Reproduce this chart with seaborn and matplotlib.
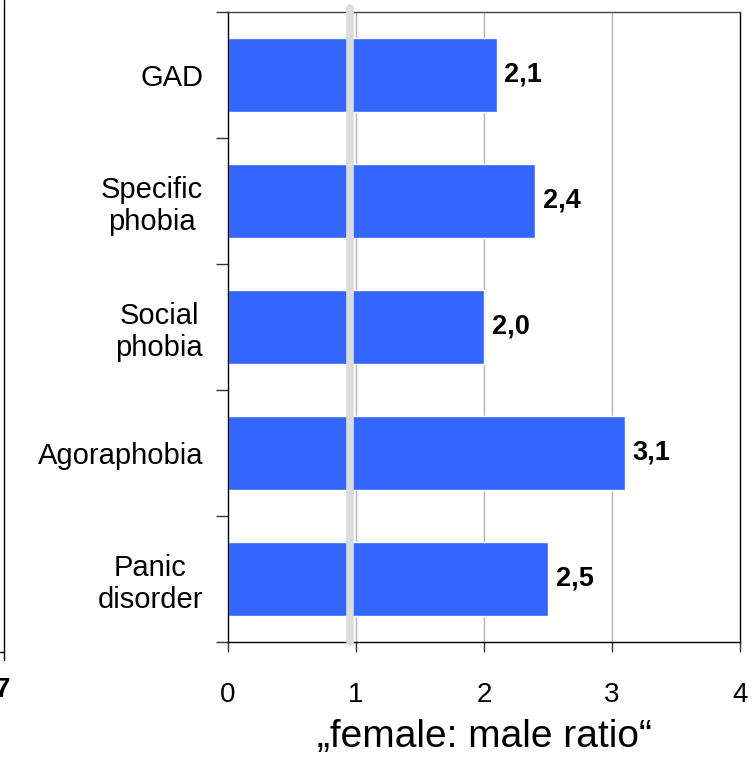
import matplotlib
matplotlib.use("Agg")
import matplotlib.pyplot as plt
import seaborn as sns
import pandas as pd
from matplotlib.lines import Line2D

categories = ["GAD", "Specific\nphobia", "Social\nphobia", "Agoraphobia", "Panic\ndisorder"]
ratios = [2.1, 2.4, 2.0, 3.1, 2.5]
value_labels = ["2,1", "2,4", "2,0", "3,1", "2,5"]
xticks = [0, 1, 2, 3, 4]

sns.set_theme(style="white")
plt.rcParams['font.family'] = ['Liberation Sans', 'DejaVu Sans']
plt.rcParams['text.color'] = 'black'
plt.rcParams['xtick.color'] = 'black'
plt.rcParams['ytick.color'] = 'black'
plt.rcParams['axes.labelcolor'] = 'black'

df = pd.DataFrame({"category": categories, "ratio": ratios})

fig = plt.figure(figsize=(7.52, 7.57), dpi=100)
ax = fig.add_axes([228/752, 1 - 642/757, 512/752, 630/757])

sns.barplot(data=df, x="ratio", y="category", orient="h", color="#3366FF",
            saturation=1, width=0.59, ax=ax, zorder=2)

ax.set_xlim(0, 4)
ax.set_ylim(4.5, -0.5)

for x in [1, 2, 3]:
    ax.axvline(x, color="#b4b4b4", lw=1.0, zorder=1)
ax.axvline(0.955, ymin=0, ymax=1.007, color="#dcdcdc", lw=5.5, zorder=3, clip_on=False)

for i, (v, lab) in enumerate(zip(ratios, value_labels)):
    ax.text(v + 0.06, i, lab, va="center", ha="left", fontsize=19.5, fontweight="bold", color="black")

ax.set_xticks(xticks)
ax.set_xticklabels([str(t) for t in xticks], fontsize=20)
ax.tick_params(axis="x", direction="out", length=7, width=1, color="#333333", pad=22, bottom=True)

ax.set_yticks(range(len(categories)))
ax.set_yticklabels(categories, fontsize=21, multialignment="center", linespacing=1.2)
ax.set_yticks([-0.5, 0.5, 1.5, 2.5, 3.5, 4.5], minor=True)
ax.tick_params(axis="y", which="major", length=0, pad=18)
ax.tick_params(axis="y", which="minor", direction="out", length=9, width=1, color="#333333", left=True)

ax.set_ylabel("")
ax.set_xlabel("\u201efemale: male ratio\u201c", fontsize=28, labelpad=8)

for side in ["left", "right", "bottom"]:
    ax.spines[side].set_color("black")
    ax.spines[side].set_linewidth(1.0)
ax.spines["top"].set_color("#444444")
ax.spines["top"].set_linewidth(1.0)

# cropped neighbour chart edge at far left
fig.add_artist(Line2D([4/752, 4/752], [1, 1 - 660/757], color="black", lw=1.0, transform=fig.transFigure))
fig.add_artist(Line2D([0, 4/752], [1 - 652/757, 1 - 652/757], color="black", lw=1.0, transform=fig.transFigure))
fig.text(-5/752, 1 - 690/757, "7", fontsize=20, fontweight="bold", va="center", ha="left")

fig.savefig("out.png", dpi=100)
